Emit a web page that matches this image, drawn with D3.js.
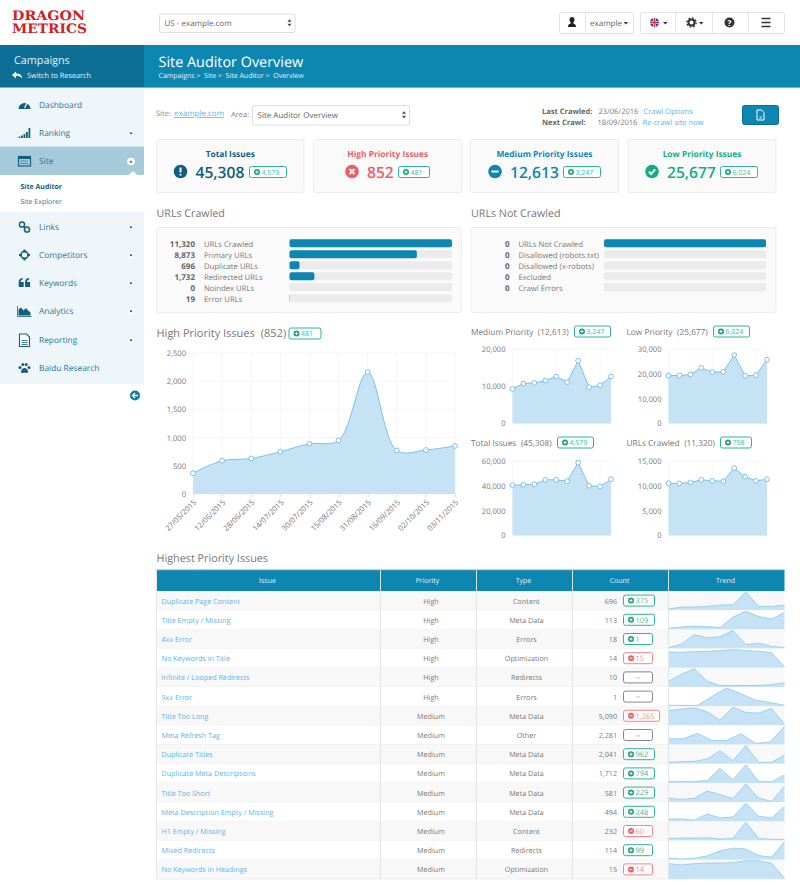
<!DOCTYPE html>
<html>
<head>
<meta charset="utf-8">
<title>Site Auditor Overview</title>
<script src="https://cdn.jsdelivr.net/npm/d3@7"></script>
<style>
  html, body { margin: 0; padding: 0; background: #fff; overflow: hidden; }
  svg { display: block; font-family: "Open Sans", sans-serif; text-rendering: geometricPrecision; }
  .domain { display: none; }
</style>
</head>
<body>
<svg id="page" width="800" height="895"></svg>
<script>
// chart data
const auditDates = ["27/05/2015","12/06/2015","28/06/2015","14/07/2015","30/07/2015","15/08/2015","31/08/2015","16/09/2015","02/10/2015","03/11/2015"];
const highPriority = [370, 590, 630, 750, 890, 950, 2160, 770, 780, 852];
const mediumPriority = [9280, 10720, 10900, 11530, 12610, 11080, 16850, 9730, 10270, 12613];
const lowPriority = [19320, 19320, 19730, 22430, 20680, 20810, 27570, 19190, 19460, 25677];
const totalIssues = [40540, 40810, 41350, 44860, 44860, 43780, 58650, 40000, 39460, 45308];
const urlsCrawled = [10540, 10470, 10680, 11220, 11010, 10950, 13580, 11820, 11010, 11320];

const crawledLabels = ["URLs Crawled","Primary URLs","Duplicate URLs","Redirected URLs","Noindex URLs","Error URLs"];
const crawledValues = [11320, 8873, 696, 1732, 0, 19];
const notCrawledLabels = ["URLs Not Crawled","Disallowed (robots.txt)","Disallowed (x-robots)","Excluded","Crawl Errors"];
const notCrawledValues = [0, 0, 0, 0, 0];
const notCrawledFill = [1, 0, 0, 0, 0]; // the first bar is drawn full even at 0

const issueNames = ["Duplicate Page Content","Title Empty / Missing","4xx Error","No Keywords in Title","Infinite / Looped Redirects","5xx Error","Title Too Long","Meta Refresh Tag","Duplicate Titles","Duplicate Meta Descriptions","Title Too Short","Meta Description Empty / Missing","H1 Empty / Missing","Mixed Redirects","No Keywords in Headings"];
const issuePriority = ["High","High","High","High","High","High","Medium","Medium","Medium","Medium","Medium","Medium","Medium","Medium","Medium"];
const issueType = ["Content","Meta Data","Errors","Optimization","Redirects","Errors","Meta Data","Other","Meta Data","Meta Data","Meta Data","Meta Data","Content","Redirects","Optimization"];
const issueCount = ["696","113","18","14","10","1","5,090","2,281","2,041","1,712","581","494","232","114","15"];
const issueDelta = ["375","109","1","15","--","--","1,265","--","962","794","229","248","60","99","14"];
const issueDeltaKind = ["up","up","up","down","none","none","down","none","up","up","up","up","down","up","down"];
// relative heights of the trend sparklines
const issueTrend = [
  [2,8,8,10,14,15,54,10,10,14],
  [2,6,9,7,4,36,54,38,30,50],
  [1,12,40,31,34,53,10,15,5,2],
  [45,44,46,47,49,52,49,47,43,1],
  [16,37,54,16,3,3,3,3,6,11],
  [1,1,1,28,54,36,17,10,1],
  [44,48,52,40,14,54,38,36,50,2],
  [16,16,32,11,11,31,2,6,53],
  [3,5,6,13,38,8,54,3,3,25],
  [3,3,3,6,43,8,54,3,2,23],
  [10,7,10,32,21,9,53,11,1,47],
  [6,6,2,21,9,12,54,14,9,44],
  [5,6,6,7,3,5,53,5,2,2],
  [3,1,3,10,25,33,30,11,6,52],
  [46,42,46,48,48,49,55,55,47,1]
];

const navLabels = ["Dashboard","Ranking","Site","Links","Competitors","Keywords","Analytics","Reporting","Baidu Research"];
const navY = [105,133,161,227,255,283,311,340,368];
const navCaret = [false,true,true,true,true,true,true,true,false];

const blue = "#0e86b2", darkBlue = "#0e6f96", navText = "#2a7896", linkBlue = "#58b4e8";
const grayText = "#777", green = "#2fb596", red = "#f5858b";
const areaFill = "#c6e3f6", areaLine = "#7cc1ea";

const svg = d3.select("#page");

function txt(parent, x, y, s, size, color, opts = {}) {
  return parent.append("text").attr("x", x).attr("y", y).text(s)
    .attr("font-size", size).attr("fill", color)
    .attr("font-weight", opts.weight || 400)
    .attr("text-anchor", opts.anchor || "start")
    .attr("text-decoration", opts.deco || null);
}
function box(parent, x, y, w, h, fill, stroke, rx = 2) {
  return parent.append("rect").attr("x", x).attr("y", y).attr("width", w).attr("height", h)
    .attr("rx", rx).attr("fill", fill).attr("stroke", stroke || "none");
}

// small delta badge, y is the vertical centre
function badge(parent, x, y, w, label, kind, size = 7.5) {
  const color = kind === "up" ? green : kind === "down" ? red : "#888";
  box(parent, x + 0.5, y - 5.5, w - 1, 11, "#fff", color, 2).attr("stroke-width", 1);
  if (kind === "none") {
    txt(parent, x + w / 2, y + 2.5, label, size, "#777", { anchor: "middle" });
    return;
  }
  const ic = kind === "up" ? "#1d9e83" : "#ee5f68";
  parent.append("circle").attr("cx", x + 8).attr("cy", y).attr("r", 3).attr("fill", ic);
  parent.append("path").attr("d", `M${x + 6.4} ${y}H${x + 9.6}` + (kind === "up" ? `M${x + 8} ${y - 1.6}V${y + 1.6}` : ""))
    .attr("stroke", "#fff").attr("stroke-width", 0.9);
  txt(parent, x + 12.5, y + 2.7, label, size, kind === "up" ? "#43bb9f" : "#f58a90");
}

// ---------- top bar ----------
const logo = svg.append("g").attr("font-family", "'DejaVu Serif Condensed','DejaVu Serif',serif").attr("font-weight", 700);
logo.append("text").attr("x", 12).attr("y", 19.5).text("DRAGON").attr("font-size", 13)
  .attr("fill", "#cf2027").attr("textLength", 73).attr("lengthAdjust", "spacingAndGlyphs");
logo.append("text").attr("x", 12).attr("y", 33).text("METRICS").attr("font-size", 13)
  .attr("fill", "#cf2027").attr("textLength", 75).attr("lengthAdjust", "spacingAndGlyphs");

function selectBox(x, y, w, h, label, size) {
  box(svg, x + 0.5, y + 0.5, w, h, "#fff", "#ddd", 2);
  txt(svg, x + 5.5, y + h / 2 + 3.5, label, size, "#666");
  svg.append("path").attr("d", `M${x + w - 7} ${y + h / 2 - 1}l2 -2.4l2 2.4zM${x + w - 7} ${y + h / 2 + 1}l2 2.4l2 -2.4z`).attr("fill", "#444");
}
selectBox(159, 13.5, 135.5, 18.5, "US - example.com", 8);

const btnG = svg.append("g");
box(btnG, 559.5, 12.5, 74, 21, "#fff", "#e2e2e2", 2);
box(btnG, 640.5, 12.5, 144, 21, "#fff", "#e2e2e2", 2);
[585.5, 675.5, 712.5, 748.5].forEach(x => btnG.append("line").attr("x1", x).attr("x2", x).attr("y1", 13).attr("y2", 33).attr("stroke", "#e6e6e6"));
btnG.append("path").attr("d", "M568 27c0-3 2-3 3-4c-1-1-1.500-2-1.500-3.500c0-1.500 1-2.500 2.500-2.500s2.500 1 2.500 2.500c0 1.500-.5 2.500-1.500 3.500c1 1 3 1 3 4z").attr("fill", "#222");
txt(btnG, 590, 25.5, "example", 8, "#666");
const caret = (g, x, y, c = "#333") => g.append("path").attr("d", `M${x} ${y}h4.500l-2.250 2.500z`).attr("fill", c);
caret(btnG, 623.5, 22);
// flag
btnG.append("circle").attr("cx", 654.5).attr("cy", 22.5).attr("r", 4.5).attr("fill", "#2a4f9e");
btnG.append("path").attr("d", "M650 22.500h9M654.500 18v9").attr("stroke", "#fff").attr("stroke-width", 2.6);
btnG.append("path").attr("d", "M650 22.500h9M654.500 18v9").attr("stroke", "#e8293a").attr("stroke-width", 1.4);
caret(btnG, 663, 22);
btnG.append("circle").attr("cx", 691.5).attr("cy", 22.5).attr("r", 3).attr("fill", "none").attr("stroke", "#333").attr("stroke-width", 2);
btnG.append("circle").attr("cx", 691.5).attr("cy", 22.5).attr("r", 4.6).attr("fill", "none").attr("stroke", "#333").attr("stroke-width", 1.4).attr("stroke-dasharray", "1.8 1.8");
caret(btnG, 699, 22);
btnG.append("circle").attr("cx", 729.5).attr("cy", 22.5).attr("r", 5).attr("fill", "#333");
txt(btnG, 729.5, 25.5, "?", 8, "#fff", { anchor: "middle", weight: 700 });
btnG.append("path").attr("d", "M761.500 18.500h9M761.500 22.500h9M761.500 26.500h9").attr("stroke", "#333").attr("stroke-width", 1.7);

// ---------- header band ----------
svg.append("rect").attr("x", 144).attr("y", 45).attr("width", 656).attr("height", 42).attr("fill", blue);
svg.append("rect").attr("x", 0).attr("y", 45).attr("width", 144).attr("height", 42).attr("fill", darkBlue);
svg.append("rect").attr("x", 0).attr("y", 87).attr("width", 800).attr("height", 1).attr("fill", "#6fb6d2");
txt(svg, 14, 63.5, "Campaigns", 10.8, "#e6f3f8");
svg.append("path").attr("d", "M12 75l4-3.500v2c4 0 6 1.500 6 5c-1-2-3-2.500-6-2.500v2.500z").attr("fill", "#fff");
txt(svg, 27, 77.5, "Switch to Research", 7.3, "#e6f3f8");
txt(svg, 158.5, 67, "Site Auditor Overview", 14.4, "#fff");
txt(svg, 158.5, 78, "Campaigns >  Site >  Site Auditor >  Overview", 7, "#e6f3f8").attr("xml:space", "preserve").style("white-space", "pre");

// ---------- sidebar ----------
svg.append("rect").attr("x", 0).attr("y", 88).attr("width", 144).attr("height", 296).attr("fill", "#eef6fa");
svg.append("rect").attr("x", 0).attr("y", 146.5).attr("width", 144).attr("height", 28.5).attr("fill", "#a6cad9");
svg.append("rect").attr("x", 0).attr("y", 175).attr("width", 144).attr("height", 37).attr("fill", "#fff");
svg.append("path").attr("d", "M128.500 175l4.500-4l4.500 4z").attr("fill", "#fff");
const iconColor = "#145f7e";
const navIcons = [
  g => { g.append("path").attr("d", "M-6 4a6 6 0 1 1 12 0z").attr("fill", iconColor);
         g.append("path").attr("d", "M0 3L2.500 -2").attr("stroke", "#eef6fa").attr("stroke-width", 1.2); },
  g => { g.selectAll("rect").data([1.5, 2.5, 4, 6, 10]).join("rect").attr("x", (d, i) => -6 + i * 2.5).attr("y", d => 5 - d).attr("width", 1.8).attr("height", d => d).attr("fill", iconColor); },
  g => { g.append("rect").attr("x", -6).attr("y", -4.5).attr("width", 12).attr("height", 9.5).attr("fill", "none").attr("stroke", iconColor).attr("stroke-width", 1.2);
         g.append("rect").attr("x", -6).attr("y", -4.5).attr("width", 12).attr("height", 2.5).attr("fill", iconColor);
         g.append("path").attr("d", "M-4 0h8M-4 2.500h8").attr("stroke", iconColor).attr("stroke-width", 1).attr("stroke-dasharray", "1.200 .8"); },
  g => { g.selectAll("circle").data([[-2.500, -2.500], [2.500, 2.500]]).join("circle").attr("cx", d => d[0]).attr("cy", d => d[1]).attr("r", 2.600).attr("fill", "none").attr("stroke", iconColor).attr("stroke-width", 1.500);
         g.append("path").attr("d", "M-1 -1L1 1").attr("stroke", iconColor).attr("stroke-width", 1.500); },
  g => { g.append("circle").attr("r", 3.600).attr("fill", "none").attr("stroke", iconColor).attr("stroke-width", 1.600);
         g.append("path").attr("d", "M-5.500 0h3M2.500 0h3M0 -5.500v3M0 2.500v3").attr("stroke", iconColor).attr("stroke-width", 2); },
  g => { g.selectAll("path").data([-5.800, 0.600]).join("path").attr("d", d => `M${d} -1h5v5h-5zM${d} -1c0-3 2-4 4-4v1.500c-1.500 0-2 1-2 2.500z`).attr("fill", iconColor); },
  g => { g.append("path").attr("d", "M-6 4.500v-6l2.500-2l2.500 3l2.500-2.500l2 2.500l2.500 2v3z").attr("fill", iconColor);
         g.append("path").attr("d", "M-7 -5v10.500h14").attr("fill", "none").attr("stroke", iconColor).attr("stroke-width", .8); },
  g => { g.append("path").attr("d", "M-5 -6h7l3 3v9.500h-10z").attr("fill", "#fff").attr("stroke", iconColor).attr("stroke-width", 1.100);
         g.append("path").attr("d", "M-3 0.500h6M-3 2.500h6M-3 4.500h6").attr("stroke", iconColor).attr("stroke-width", .8); },
  g => { g.selectAll("circle").data([[-4.500, -.5], [-1.700, -3.500], [1.700, -3.500], [4.500, -.5]]).join("circle").attr("cx", d => d[0]).attr("cy", d => d[1]).attr("r", 1.500).attr("fill", iconColor);
         g.append("path").attr("d", "M-3.500 4c0-2.500 2-4 3.500-4s3.500 1.500 3.500 4c0 1.500-2 .8-3.500 .8s-3.500 .7-3.500-.8z").attr("fill", iconColor); }
];
navLabels.forEach((name, i) => {
  const g = svg.append("g");
  navIcons[i](g.append("g").attr("transform", `translate(24.500,${navY[i]})`));
  txt(g, 39, navY[i] + 3, name, 8.4, navText);
  if (navCaret[i]) {
    g.append("circle").attr("cx", 131).attr("cy", navY[i] + 0.5).attr("r", name === "Site" ? 3.800 : 3).attr("fill", "#fff");
    const dy = navY[i] + 0.5;
    g.append("path").attr("d", name === "Site" ? `M129.300 ${dy + 1}l1.700 -2l1.700 2z` : `M129.300 ${dy - 1}l1.700 2l1.700 -2z`).attr("fill", "#244");
  }
});
txt(svg, 20.5, 189, "Site Auditor", 7, "#145f7e", { weight: 700 });
txt(svg, 20.5, 204, "Site Explorer", 7, "#2a7896");
svg.append("circle").attr("cx", 135).attr("cy", 395.5).attr("r", 5).attr("fill", "#0e7ea6");
svg.append("path").attr("d", "M138 395.500h-5M135 393l-2.500 2.500l2.500 2.500").attr("fill", "none").attr("stroke", "#fff").attr("stroke-width", 1.300);

// ---------- filter row ----------
txt(svg, 156, 116, "Site:", 7.5, "#888");
txt(svg, 174, 116, "example.com", 8, linkBlue, { deco: "underline" });
txt(svg, 231, 117, "Area:", 7.5, "#777");
selectBox(252, 105, 157, 19.5, "Site Auditor Overview", 8);
txt(svg, 542, 113.5, "Last Crawled:", 7.5, "#666", { weight: 700 });
txt(svg, 598.5, 113.5, "23/06/2016", 7.5, "#777");
txt(svg, 643.5, 113.5, "Crawl Options", 7.5, linkBlue);
txt(svg, 542, 124.5, "Next Crawl:", 7.5, "#666", { weight: 700 });
txt(svg, 597.5, 124.5, "18/09/2016", 7.5, "#777");
txt(svg, 642.5, 124.5, "Re-crawl site now", 7.5, linkBlue);
box(svg, 742.5, 105.5, 36, 19, blue, "#0b7097", 2);
svg.append("path").attr("d", "M757 110h4.500l2.500 2.500v7.500h-7z").attr("fill", "none").attr("stroke", "#fff");
txt(svg, 760.5, 118.5, "x", 5.5, "#fff", { anchor: "middle" });

// ---------- summary cards ----------
const cardX = [156.5, 313.5, 470.5, 628];
const cardW = [147.5, 148.5, 148, 148];
const cardTitles = ["Total Issues", "High Priority Issues", "Medium Priority Issues", "Low Priority Issues"];
const cardValues = ["45,308", "852", "12,613", "25,677"];
const cardDeltas = ["4,579", "481", "3,247", "6,024"];
const cardColors = ["#0d5f7f", "#ef5c68", "#0e86b2", "#13ad85"];
const cardIconX = [180.5, 352, 495, 652];
const cardBadgeX = [249, 398, 563, 720];
const cardMarks = [
  "M0 -4V1M0 2.500V4", "M-2.500 -2.500L2.500 2.500M2.500 -2.500L-2.500 2.500", "M-3.500 0H3.500", "M-3 .2L-1 2.500L3.200 -2.200"
];
cardTitles.forEach((title, i) => {
  const g = svg.append("g");
  box(g, cardX[i], 139.5, cardW[i], 53, "#fafafa", "#ececec", 2);
  txt(g, cardX[i] + cardW[i] / 2, 157, title, 8.4, cardColors[i], { anchor: "middle", weight: 700 });
  g.append("circle").attr("cx", cardIconX[i]).attr("cy", 171.5).attr("r", 6.8).attr("fill", cardColors[i]);
  g.append("path").attr("transform", `translate(${cardIconX[i]},171.5)`).attr("d", cardMarks[i])
    .attr("fill", "none").attr("stroke", "#fafafa").attr("stroke-width", 2);
  txt(g, cardIconX[i] + 15, 177.5, cardValues[i], 15.6, cardColors[i], { weight: 600 });
  badge(g, cardBadgeX[i], 172, i === 1 ? 32 : 38, cardDeltas[i], "up", 7);
});

// ---------- URL bars ----------
function urlPanel(x, w, title, labels, values, fill, valueX, labelX, barX, barW) {
  txt(svg, x + 0.5, 217, title, 10.7, grayText);
  box(svg, x + 0.5, 227.5, w, 85, "#fafafa", "#ececec", 2);
  const rowY = d3.scaleBand().domain(d3.range(6)).range([237.5, 303.5]);
  const barScale = d3.scaleLinear().domain([0, d3.max(fill)]).range([0, barW]);
  labels.forEach((label, i) => {
    const cy = rowY(i) + rowY.bandwidth() / 2;
    txt(svg, valueX, cy + 4, d3.format(",")(values[i]), 8, "#666", { anchor: "end", weight: 700 });
    txt(svg, labelX, cy + 4, label, 7.7, "#777");
    box(svg, barX, cy - 3.8, barW, 8, "#ebebeb", null, 2);
    if (fill[i] > 0) box(svg, barX, cy - 3.8, barScale(fill[i]), 8, blue, null, 2);
  });
}
urlPanel(156, 305, "URLs Crawled", crawledLabels, crawledValues, crawledValues, 195, 204, 289.5, 162.5);
urlPanel(470.5, 305, "URLs Not Crawled", notCrawledLabels, notCrawledValues, notCrawledFill, 509.5, 518.5, 604, 162);

// ---------- area charts ----------
function areaChart(opts) {
  const g = svg.append("g");
  const x = d3.scalePoint().domain(auditDates).range([opts.x0, opts.x1]);
  const y = d3.scaleLinear().domain([0, opts.yMax]).range([opts.y0, opts.y1]);
  // grid lines
  g.selectAll(".hgrid").data(opts.ticks).join("line").attr("class", "hgrid")
    .attr("x1", opts.x0).attr("x2", opts.x1).attr("y1", d => y(d)).attr("y2", d => y(d))
    .attr("stroke", "#f6f6f6");
  g.selectAll(".vgrid").data(auditDates.filter((d, i) => i % opts.gridEvery === 0)).join("line").attr("class", "vgrid")
    .attr("x1", d => x(d)).attr("x2", d => x(d)).attr("y1", opts.y1).attr("y2", opts.y0)
    .attr("stroke", "#f6f6f6");
  const area = d3.area().x((d, i) => x(auditDates[i])).y0(opts.y0).y1(d => y(d)).curve(opts.curve);
  const line = d3.line().x((d, i) => x(auditDates[i])).y(d => y(d)).curve(opts.curve);
  g.append("path").attr("d", area(opts.values)).attr("fill", areaFill);
  g.append("path").attr("d", line(opts.values)).attr("fill", "none").attr("stroke", areaLine).attr("stroke-width", 1);
  g.selectAll(".pt").data(opts.values).join("circle").attr("class", "pt")
    .attr("cx", (d, i) => x(auditDates[i])).attr("cy", d => y(d)).attr("r", 2.4)
    .attr("fill", "#fff").attr("stroke", areaLine).attr("stroke-width", 1);
  const yAxis = g.append("g").attr("transform", `translate(${opts.x0},0)`)
    .call(d3.axisLeft(y).tickValues(opts.ticks).tickSize(0).tickPadding(opts.pad).tickFormat(d3.format(",")));
  yAxis.selectAll("text").attr("font-size", 7.6).attr("font-family", "'Open Sans'").attr("fill", grayText);
  if (opts.xLabels) {
    const xAxis = g.append("g").attr("transform", `translate(0,${opts.y0})`)
      .call(d3.axisBottom(x).tickSize(3).tickPadding(2));
    xAxis.selectAll("line").attr("stroke", "#ddd");
    xAxis.selectAll("text").attr("font-size", 7.6).attr("font-family", "'Open Sans'").attr("fill", grayText)
      .attr("text-anchor", "end").attr("transform", "rotate(-45) translate(-4,0)").attr("dy", "0.5em");
  }
}
function chartHeading(x, y, name, total, size) {
  const t = txt(svg, x, y, name, size, grayText);
  txt(svg, x + t.node().getComputedTextLength() + size * 0.55, y, `(${total})`, size, grayText);
}
chartHeading(156.5, 337, "High Priority Issues", "852", 11);
badge(svg, 288.5, 333.5, 33, "481", "up", 7);
areaChart({ values: highPriority, x0: 193, x1: 455, y0: 494, y1: 353, yMax: 2500, ticks: [0, 500, 1000, 1500, 2000, 2500],
  gridEvery: 1, curve: d3.curveCatmullRom, pad: 7, xLabels: true });

const smallCharts = [
  { name: "Medium Priority", total: "12,613", delta: "3,247", values: mediumPriority, yMax: 20000, ticks: [0, 10000, 20000], x: 471, x0: 512.5, x1: 611, y0: 423.5, y1: 349, head: 335, bx: 574, bw: 37 },
  { name: "Low Priority", total: "25,677", delta: "6,024", values: lowPriority, yMax: 30000, ticks: [0, 10000, 20000, 30000], x: 626.5, x0: 668.5, x1: 767, y0: 423.5, y1: 349, head: 335, bx: 713, bw: 37 },
  { name: "Total Issues", total: "45,308", delta: "4,579", values: totalIssues, yMax: 60000, ticks: [0, 20000, 40000, 60000], x: 471, x0: 512.5, x1: 611, y0: 535.5, y1: 461, head: 446, bx: 557, bw: 37 },
  { name: "URLs Crawled", total: "11,320", delta: "798", values: urlsCrawled, yMax: 15000, ticks: [0, 5000, 10000, 15000], x: 626.5, x0: 668.5, x1: 767, y0: 535.5, y1: 461, head: 446, bx: 720, bw: 32 }
];
smallCharts.forEach(c => {
  chartHeading(c.x, c.head, c.name, c.total, 8.3);
  badge(svg, c.bx, c.head - 3.5, c.bw, c.delta, "up", 7);
  areaChart({ values: c.values, x0: c.x0, x1: c.x1, y0: c.y0, y1: c.y1, yMax: c.yMax, ticks: c.ticks,
    gridEvery: 4, curve: d3.curveLinear, pad: 7, xLabels: false });
});

// ---------- issues table ----------
txt(svg, 156.5, 562, "Highest Priority Issues", 10.8, grayText);
const colEdges = [156.5, 380.5, 476.5, 572.5, 668.5, 784.5];
const colNames = ["Issue", "Priority", "Type", "Count", "Trend"];
const rowScale = d3.scaleBand().domain(d3.range(issueNames.length)).range([591, 879]);
const rowH = rowScale.bandwidth();
const table = svg.append("g");
table.append("rect").attr("x", colEdges[0]).attr("y", 570).attr("width", colEdges[5] - colEdges[0]).attr("height", 21).attr("fill", blue);
colNames.forEach((name, i) => {
  txt(table, (colEdges[i] + colEdges[i + 1]) / 2 - 1, 583, name, 7, "#e8f4f9", { anchor: "middle" });
});
issueNames.forEach((name, i) => {
  const top = rowScale(i), mid = top + rowH / 2;
  const row = table.append("g");
  row.append("rect").attr("x", colEdges[0]).attr("y", top).attr("width", colEdges[5] - colEdges[0]).attr("height", rowH)
    .attr("fill", i % 2 ? "#fff" : "#f8f8f8");
  row.append("line").attr("x1", colEdges[0]).attr("x2", colEdges[5]).attr("y1", top + rowH).attr("y2", top + rowH).attr("stroke", "#efefef");
  txt(row, 161.5, mid + 3, name, 7.2, linkBlue);
  txt(row, 431, mid + 3, issuePriority[i], 7.2, "#777", { anchor: "middle" });
  txt(row, 526.5, mid + 3, issueType[i], 7.2, "#777", { anchor: "middle" });
  txt(row, 617, mid + 3, issueCount[i], 7.2, "#777", { anchor: "end" });
  const w = issueDelta[i].length >= 5 ? 37 : (issueDelta[i].length === 3 ? 32 : 30);
  badge(row, 623, mid, w, issueDelta[i], issueDeltaKind[i], 7.5);
  // trend sparkline, each row on its own scale
  const vals = issueTrend[i];
  const sx = d3.scalePoint().domain(d3.range(vals.length)).range([colEdges[4], colEdges[5]]);
  const sy = d3.scaleLinear().domain([0, d3.max(vals)]).range([top + rowH - 0.5, top + 1]);
  row.append("path").attr("d", d3.area().x((d, j) => sx(j)).y0(top + rowH).y1(d => sy(d))(vals)).attr("fill", areaFill);
  row.append("path").attr("d", d3.line().x((d, j) => sx(j)).y(d => sy(d))(vals)).attr("fill", "none").attr("stroke", "#93cdf0").attr("stroke-width", 0.9);
});
colEdges.slice(0, 5).forEach((x, i) => {
  table.append("line").attr("x1", x).attr("x2", x).attr("y1", 570).attr("y2", 879)
    .attr("stroke", i === 0 ? "#e6e6e6" : "#dfe6ea").attr("stroke-width", 1);
});
table.append("line").attr("x1", colEdges[0]).attr("x2", colEdges[5]).attr("y1", 570).attr("y2", 570).attr("stroke", "#5fa9c6");
</script>
</body>
</html>
